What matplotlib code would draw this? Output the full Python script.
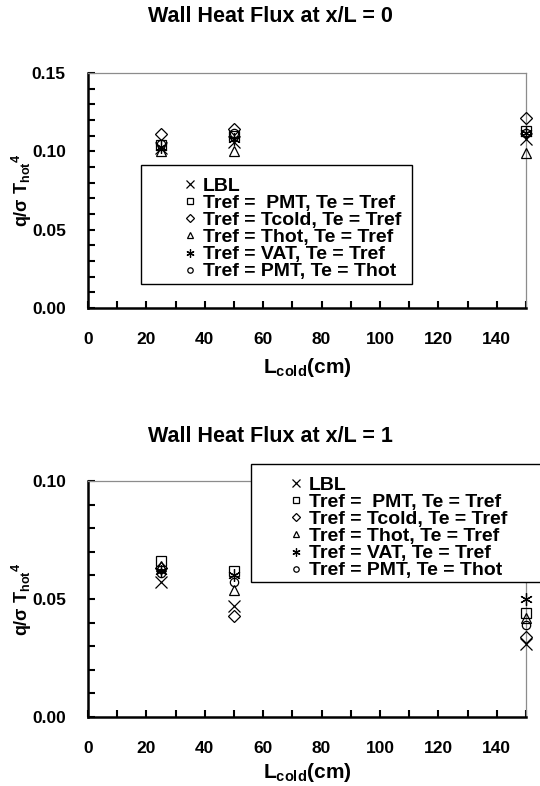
import matplotlib
matplotlib.use("Agg")
import matplotlib.pyplot as plt
from matplotlib.patches import Rectangle
from matplotlib.ticker import MultipleLocator, FormatStrFormatter

plt.rcParams['font.family'] = ['Liberation Sans', 'DejaVu Sans']
plt.rcParams['font.weight'] = 'bold'
plt.rcParams['mathtext.fontset'] = 'custom'
for k in ('rm', 'it', 'bf', 'sf'):
    plt.rcParams['mathtext.' + k] = 'Liberation Sans:bold'

# Cold-section lengths (cm)
l_cold = [25, 50, 150]

series_labels = [
    "LBL",
    "Tref =  PMT, Te = Tref",
    "Tref = Tcold, Te = Tref",
    "Tref = Thot, Te = Tref",
    "Tref = VAT, Te = Tref",
    "Tref = PMT, Te = Thot",
]

# Non-dimensional wall heat flux at x/L = 0
flux_x0_lbl = [0.102, 0.106, 0.108]
flux_x0_pmt = [0.104, 0.110, 0.113]
flux_x0_tcold = [0.111, 0.114, 0.121]
flux_x0_thot = [0.100, 0.100, 0.099]
flux_x0_vat = [0.103, 0.108, 0.112]
flux_x0_pmt_thot = [0.105, 0.112, 0.112]

# Non-dimensional wall heat flux at x/L = 1
flux_x1_lbl = [0.057, 0.047, 0.031]
flux_x1_pmt = [0.066, 0.062, 0.044]
flux_x1_tcold = [0.063, 0.043, 0.034]
flux_x1_thot = [0.064, 0.054, 0.042]
flux_x1_vat = [0.062, 0.060, 0.050]
flux_x1_pmt_thot = [0.061, 0.057, 0.039]

markers = ['x', 's', 'D', '^', (6, 2, 0), 'o']
sizes = [9, 7, 6, 7, 9, 6]

fig = plt.figure(figsize=(5.4, 7.86), dpi=100)
W, H = 540.0, 786.0


def px_axes(left, top, right, bottom):
    return [left / W, 1 - bottom / H, (right - left) / W, (bottom - top) / H]


ax1 = fig.add_axes(px_axes(88, 73, 526, 308))
ax2 = fig.add_axes(px_axes(88, 481, 526, 717))

groups = [
    (ax1, [flux_x0_lbl, flux_x0_pmt, flux_x0_tcold, flux_x0_thot, flux_x0_vat, flux_x0_pmt_thot],
     0.15, 235.0, 308, 367),
    (ax2, [flux_x1_lbl, flux_x1_pmt, flux_x1_tcold, flux_x1_thot, flux_x1_vat, flux_x1_pmt_thot],
     0.10, 236.0, 717, 773),
]

for ax, series, ymax, hpx, base_y, xlab_y in groups:
    handles = []
    for vals, m, s, lab in zip(series, markers, sizes, series_labels):
        h, = ax.plot(l_cold, vals, linestyle='none', marker=m, markersize=s,
                     markerfacecolor='none', markeredgecolor='black',
                     markeredgewidth=0.9, clip_on=False, label=lab, zorder=3)
        handles.append(h)
    ax.set_xlim(0, 150)
    ax.set_ylim(0, ymax)
    ax.xaxis.set_major_locator(MultipleLocator(20))
    ax.xaxis.set_minor_locator(MultipleLocator(10))
    ax.yaxis.set_major_locator(MultipleLocator(0.05))
    ax.yaxis.set_minor_locator(MultipleLocator(0.01))
    ax.yaxis.set_major_formatter(FormatStrFormatter('%.2f'))
    ax.tick_params(which='both', direction='in', length=5, width=1.5,
                   top=False, right=False)
    ax.tick_params(axis='y', which='major', pad=16, labelsize=12.5)
    ax.tick_params(axis='x', which='major', pad=17, labelsize=12.5)
    for sp in ('left', 'bottom'):
        ax.spines[sp].set_linewidth(1.8)
        ax.spines[sp].set_color('black')
    for sp in ('top', 'right'):
        ax.spines[sp].set_linewidth(0.9)
        ax.spines[sp].set_color('0.55')
    ax.set_xlabel('L$_{\\mathrm{cold}}$(cm)', fontsize=15, fontweight='bold')
    ax.xaxis.set_label_coords(0.5, -(xlab_y - base_y) / hpx)
    ax.xaxis.label.set_va('center')
    ax.set_ylabel('q/\u03c3 T$_{\\mathrm{hot}}$$^{\\mathrm{4}}$', fontsize=13,
                  fontweight='bold')
    ax.yaxis.set_label_coords(-66 / 438.0, 0.5)
    ax.yaxis.label.set_va('center')
    ax._handles = handles

fig.text(0.5, 1 - 17 / H, 'Wall Heat Flux at x/L = 0', ha='center', va='center',
         fontsize=15.5, fontweight='bold')
fig.text(0.5, 1 - 437 / H, 'Wall Heat Flux at x/L = 1', ha='center', va='center',
         fontsize=15.5, fontweight='bold')


def legend_box(ax, left, top, right, bottom, text_left):
    rect = Rectangle((left / W, 1 - bottom / H), (right - left) / W, (bottom - top) / H,
                     transform=fig.transFigure, facecolor='white', edgecolor='black',
                     linewidth=1.0, zorder=5)
    fig.patches.append(rect)
    leg = fig.legend(handles=ax._handles, loc='upper left',
                     bbox_to_anchor=(text_left / W, 1 - (top - 1) / H),
                     frameon=False, handlelength=0.7,
                     handletextpad=0.3, labelspacing=-0.03, borderpad=0.2,
                     markerscale=0.65, prop={'weight': 'bold', 'size': 14})
    leg.set_zorder(6)


legend_box(ax1, 141, 165, 412, 284, 170)
legend_box(ax2, 251, 464, 545, 582, 276)

fig.savefig('out.png', dpi=100)
